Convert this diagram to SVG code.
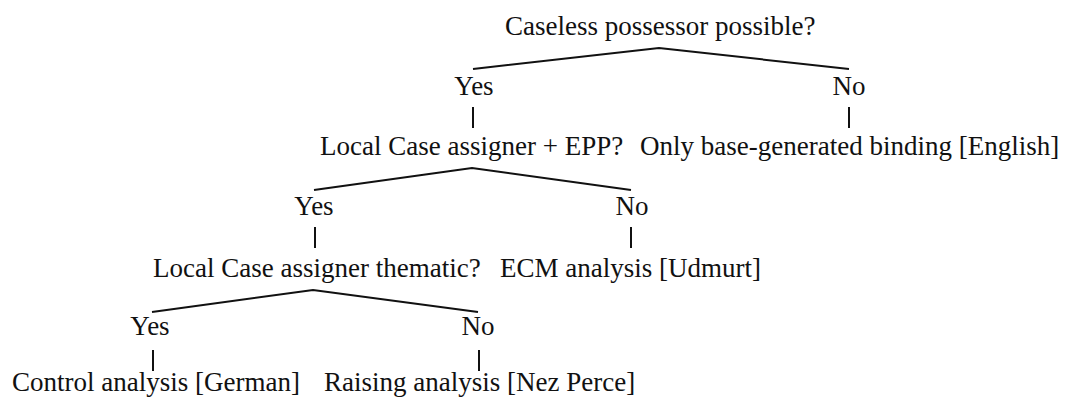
<svg xmlns="http://www.w3.org/2000/svg" width="1065" height="401" viewBox="0 0 1065 401">
  <style>
    text { font-family: "Liberation Serif", "Times New Roman", serif; font-size: 27px; fill: #111; }
    .mid { text-anchor: middle; }
    .edge { stroke: #111; stroke-width: 2; fill: none; stroke-linecap: butt; }
  </style>
  <rect width="1065" height="401" fill="#fff"/>

  <!-- branching lines and vertical ticks -->
  <g id="connectors">
    <polyline class="edge" points="473,69 659,48 849,69"/>
    <line class="edge" x1="473" y1="107" x2="473" y2="128"/>
    <line class="edge" x1="849" y1="107" x2="849" y2="128"/>

    <polyline class="edge" points="314,190 472,168 631,190"/>
    <line class="edge" x1="315" y1="227" x2="315" y2="248"/>
    <line class="edge" x1="631" y1="227" x2="631" y2="248"/>

    <polyline class="edge" points="152,312 313,290 478,312"/>
    <line class="edge" x1="153" y1="350" x2="153" y2="371"/>
    <line class="edge" x1="479" y1="350" x2="479" y2="371"/>
  </g>

  <g id="q-caseless"><text x="505" y="35">Caseless possessor possible?</text></g>
  <g id="a1-yes"><text class="mid" x="474" y="95">Yes</text></g>
  <g id="a1-no"><text class="mid" x="849" y="95">No</text></g>

  <g id="q-local-epp"><text x="320" y="155">Local Case assigner + EPP?</text></g>
  <g id="r-english"><text x="640" y="155">Only base-generated binding [English]</text></g>
  <g id="a2-yes"><text class="mid" x="314" y="215">Yes</text></g>
  <g id="a2-no"><text class="mid" x="632" y="215">No</text></g>

  <g id="q-thematic"><text x="153" y="277">Local Case assigner thematic?</text></g>
  <g id="r-udmurt"><text x="500" y="277">ECM analysis [Udmurt]</text></g>
  <g id="a3-yes"><text class="mid" x="150" y="335">Yes</text></g>
  <g id="a3-no"><text class="mid" x="478" y="335">No</text></g>

  <g id="r-german"><text x="12" y="391">Control analysis [German]</text></g>
  <g id="r-nezperce"><text x="324" y="391">Raising analysis [Nez Perce]</text></g>
</svg>
